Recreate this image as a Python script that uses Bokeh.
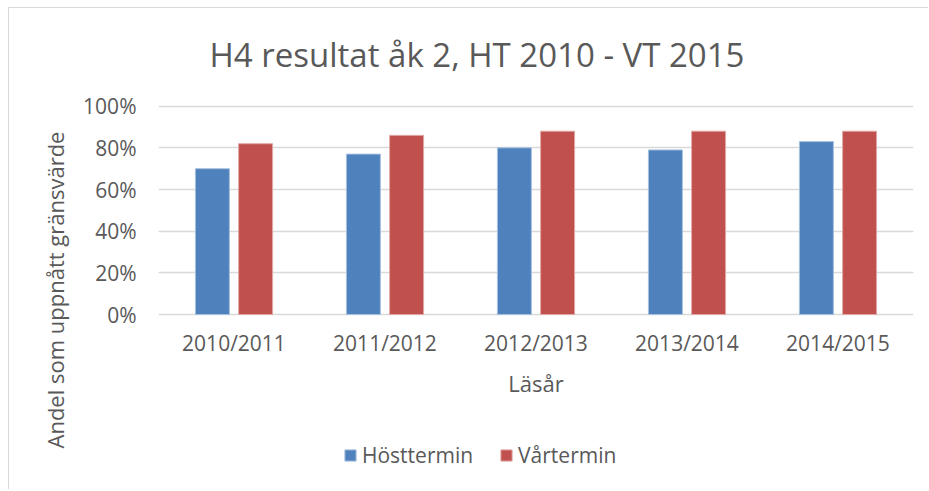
from bokeh.plotting import figure
from bokeh.models import (ColumnDataSource, Legend, LegendItem, FixedTicker,
                          NumeralTickFormatter, Title, Label, Range1d)
from bokeh.transform import dodge
from bokeh.embed import file_html
from bokeh.resources import INLINE

years = ["2010/2011", "2011/2012", "2012/2013", "2013/2014", "2014/2015"]
hosttermin = [0.70, 0.77, 0.80, 0.79, 0.83]
vartermin = [0.82, 0.86, 0.88, 0.88, 0.88]
y_ticks = [0, 0.2, 0.4, 0.6, 0.8, 1.0]

title_text = "H4 resultat åk 2, HT 2010 - VT 2015"
x_title = "Läsår"
y_title = "Andel som uppnått gränsvärde"
series_names = ["Hösttermin", "Vårtermin"]
colors = ["#4F81BD", "#C0504D"]

FONT = "Open Sans"
TXT = "#595959"

# page geometry (pixels)
W, H = 928, 489
PLOT_L, PLOT_R = 158, 913          # plot area left / right
Y0_PX, Y100_PX = 314, 105.7        # pixel rows of 0% and 100%
px_per_unit = Y0_PX - Y100_PX
y_start = -(H - Y0_PX) / px_per_unit
y_end = 1 + Y100_PX / px_per_unit
x_px_per_cat = (PLOT_R - PLOT_L) / len(years)

src = ColumnDataSource(dict(year=years, host=hosttermin, var=vartermin))

p = figure(x_range=years, y_range=Range1d(y_start, y_end), width=W, height=H,
           output_backend="svg", toolbar_location=None,
           min_border_left=PLOT_L, min_border_right=W - PLOT_R,
           min_border_top=0, min_border_bottom=0)
p.outline_line_color = None
p.background_fill_alpha = 0
p.border_fill_alpha = 0
p.styles = {
    "background": ("linear-gradient(#D9D9D9,#D9D9D9) 8px 7px / 1px 100% no-repeat, "
                   "linear-gradient(#D9D9D9,#D9D9D9) 8px 7px / 100% 1px no-repeat, white")
}

r1 = p.vbar(x=dodge("year", -0.143, range=p.x_range), top="host", width=0.225,
            source=src, fill_color=colors[0], line_color="#A7C0DE", line_width=1)
r2 = p.vbar(x=dodge("year", 0.143, range=p.x_range), top="var", width=0.225,
            source=src, fill_color=colors[1], line_color="#E0A8A6", line_width=1)

# axes
p.yaxis.ticker = FixedTicker(ticks=y_ticks)
p.yaxis.formatter = NumeralTickFormatter(format="0%")
for ax in (p.xaxis[0], p.yaxis[0]):
    ax.axis_line_color = None
    ax.major_tick_line_color = None
    ax.minor_tick_line_color = None
    ax.major_label_text_font = FONT
    ax.major_label_text_font_size = "21px"
    ax.major_label_text_color = TXT
p.yaxis.major_label_standoff = 16
p.xaxis.fixed_location = 0
p.xaxis.major_label_standoff = 8
p.xaxis.axis_label = x_title
p.xaxis.axis_label_text_font = FONT
p.xaxis.axis_label_text_font_size = "22px"
p.xaxis.axis_label_text_font_style = "normal"
p.xaxis.axis_label_text_color = TXT
p.xaxis.axis_label_standoff = 8

p.xgrid.grid_line_color = None
p.ygrid.ticker = FixedTicker(ticks=y_ticks)
p.ygrid.grid_line_color = "#D9D9D9"
p.ygrid.grid_line_width = 1.5

# chart title
p.add_layout(Label(x=(476.5 - PLOT_L) / x_px_per_cat, y=(Y0_PX - 53.5) / px_per_unit,
                   text=title_text, text_align="center", text_baseline="alphabetic",
                   text_font=FONT, text_font_size="33px", text_color=TXT))

# y axis title (rotated, in the left panel)
yt = Title(text=y_title, align="left", offset=H - 448, standoff=22,
           text_font=FONT, text_font_size="22px", text_font_style="normal",
           text_color=TXT)
p.add_layout(yt, "left")

legend = Legend(items=[LegendItem(label=series_names[0], renderers=[r1]),
                       LegendItem(label=series_names[1], renderers=[r2])],
                orientation="horizontal", location=(343 - PLOT_L, 20),
                glyph_width=14, glyph_height=14, label_standoff=5, spacing=26,
                padding=0, margin=0, border_line_color=None, background_fill_alpha=0,
                label_text_font=FONT, label_text_font_size="21px", label_text_color=TXT)
p.add_layout(legend, "center")

open("out.html", "w").write(file_html(p, INLINE))
